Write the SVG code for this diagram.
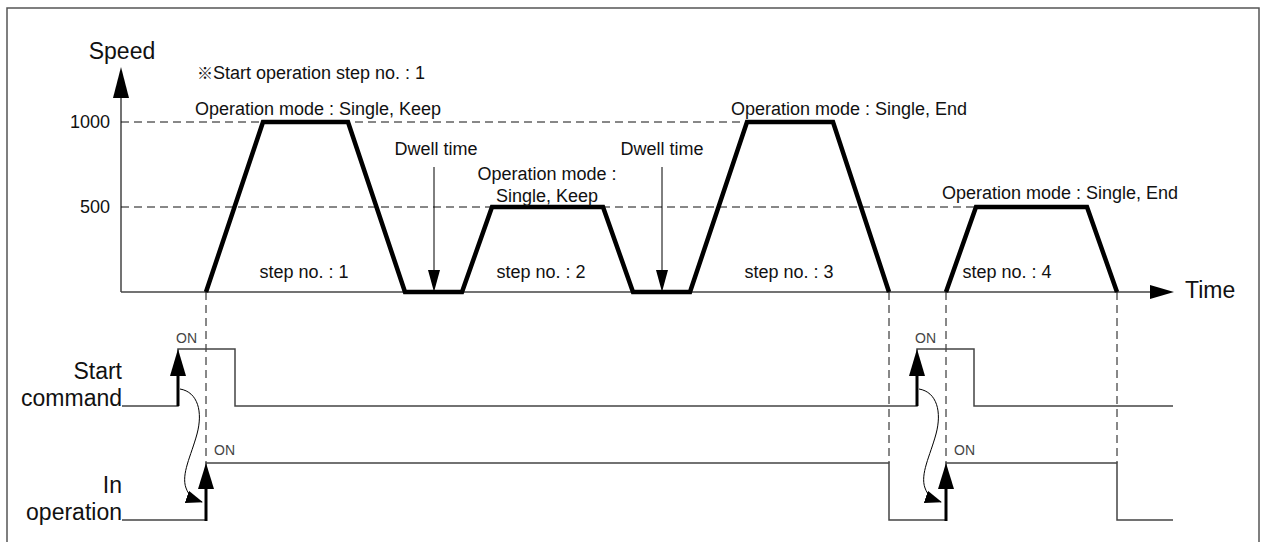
<svg xmlns="http://www.w3.org/2000/svg" width="1262" height="542" viewBox="0 0 1262 542">
<defs>
<style>
text{font-family:"Liberation Sans",Arial,"Noto Sans CJK KR",sans-serif;fill:#111}
.lbl{font-size:18px}
.big{font-size:23px}
.on{font-size:14px;fill:#444}
.axis{stroke:#444;stroke-width:1.5;fill:none}
.dash{stroke:#111;stroke-width:1;stroke-dasharray:8 5;fill:none}
.prof{stroke:#000;stroke-width:4.5;fill:none;stroke-linejoin:miter}
.sig{stroke:#444;stroke-width:1.5;fill:none}
.thin{stroke:#000;stroke-width:1;fill:none}
.shaft{stroke:#000;stroke-width:3;fill:none}
</style>
<marker id="curveHead" markerWidth="17" markerHeight="13" refX="16" refY="6.5" orient="auto" markerUnits="userSpaceOnUse">
<path d="M0,0 L17,6.5 L0,13 Z" fill="#000"/>
</marker>
</defs>
<rect x="7" y="8" width="1252" height="545" fill="#fff" stroke="#555" stroke-width="1.5"/>
<g id="axes">
<line class="axis" x1="121" y1="292" x2="121" y2="96"/>
<polygon points="121,67 113,98 129,98" fill="#000"/>
<line class="axis" x1="121" y1="292" x2="1152" y2="292"/>
<polygon points="1174,292 1150,285 1150,299" fill="#000"/>
<text class="big" x="122" y="59" text-anchor="middle">Speed</text>
<text class="big" x="1185" y="298">Time</text>
<text class="lbl" x="110" y="128" text-anchor="end">1000</text>
<text class="lbl" x="110" y="213" text-anchor="end">500</text>
</g>
<g id="note">
<text class="lbl" x="197" y="79"><tspan font-size="16" font-family="'Noto Sans CJK KR',sans-serif">※</tspan><tspan x="213">Start operation step no. : 1</tspan></text>
</g>
<g id="connectors">
<line class="dash" x1="121" y1="122" x2="747" y2="122"/>
<line class="dash" x1="121" y1="207" x2="976" y2="207"/>
<line class="dash" x1="206" y1="292" x2="206" y2="463"/>
<line class="dash" x1="889" y1="292" x2="889" y2="463"/>
<line class="dash" x1="946" y1="292" x2="946" y2="463"/>
<line class="dash" x1="1117" y1="292" x2="1117" y2="463"/>
<line class="thin" x1="434" y1="167" x2="434" y2="272"/>
<polygon points="434,292 428,270 440,270" fill="#000"/>
<line class="thin" x1="662" y1="167" x2="662" y2="272"/>
<polygon points="662,292 656,270 668,270" fill="#000"/>
<path class="thin" d="M180,389 C198,392 203,412 197,434 C191,456 181,474 186,488 C189,496 193,499 202,502" marker-end="url(#curveHead)"/>
<path class="thin" d="M919,389 C937,392 942,412 936,434 C930,456 920,474 925,488 C928,496 932,499 941,502" marker-end="url(#curveHead)"/>
</g>
<g id="profile">
<path class="prof" d="M206,292 L263,122 L348,122 L405,292 L462,292 L492,207 L603,207 L633,292 L690,292 L747,122 L833,122 L889,292"/>
<path class="prof" d="M946,292 L976,207 L1087,207 L1117,292"/>
</g>
<g id="step1">
<text class="lbl" x="318" y="115" text-anchor="middle">Operation mode : Single, Keep</text>
<text class="lbl" x="304" y="278" text-anchor="middle">step no. : 1</text>
</g>
<g id="dwell1">
<text class="lbl" x="436" y="155" text-anchor="middle">Dwell time</text>
</g>
<g id="step2">
<text class="lbl" x="547" y="180" text-anchor="middle">Operation mode :</text>
<text class="lbl" x="547" y="202" text-anchor="middle">Single, Keep</text>
<text class="lbl" x="541" y="278" text-anchor="middle">step no. : 2</text>
</g>
<g id="dwell2">
<text class="lbl" x="662" y="155" text-anchor="middle">Dwell time</text>
</g>
<g id="step3">
<text class="lbl" x="849" y="115" text-anchor="middle">Operation mode : Single, End</text>
<text class="lbl" x="789" y="278" text-anchor="middle">step no. : 3</text>
</g>
<g id="step4">
<text class="lbl" x="1060" y="199" text-anchor="middle">Operation mode : Single, End</text>
<text class="lbl" x="1007" y="278" text-anchor="middle">step no. : 4</text>
</g>
<g id="start-command">
<text class="big" x="122" y="379" text-anchor="end">Start</text>
<text class="big" x="122" y="406" text-anchor="end">command</text>
<path class="sig" d="M122,406 H178 V349 H235 V406 H917 V349 H974 V406 H1173"/>
<line class="shaft" x1="178" y1="406" x2="178" y2="372"/>
<polygon points="178,349 170,376 186,376" fill="#000"/>
<line class="shaft" x1="917" y1="406" x2="917" y2="372"/>
<polygon points="917,349 909,376 925,376" fill="#000"/>
<text class="on" x="176" y="343">ON</text>
<text class="on" x="915" y="343">ON</text>
</g>
<g id="in-operation">
<text class="big" x="122" y="493" text-anchor="end">In</text>
<text class="big" x="122" y="520" text-anchor="end">operation</text>
<path class="sig" d="M122,520 H206 V463 H889 V520 H946 V463 H1117 V520 H1173"/>
<line class="shaft" x1="206" y1="521" x2="206" y2="486"/>
<polygon points="206,463 198,489 214,489" fill="#000"/>
<line class="shaft" x1="946" y1="521" x2="946" y2="486"/>
<polygon points="946,463 938,489 954,489" fill="#000"/>
<text class="on" x="214" y="455">ON</text>
<text class="on" x="954" y="455">ON</text>
</g>
</svg>
